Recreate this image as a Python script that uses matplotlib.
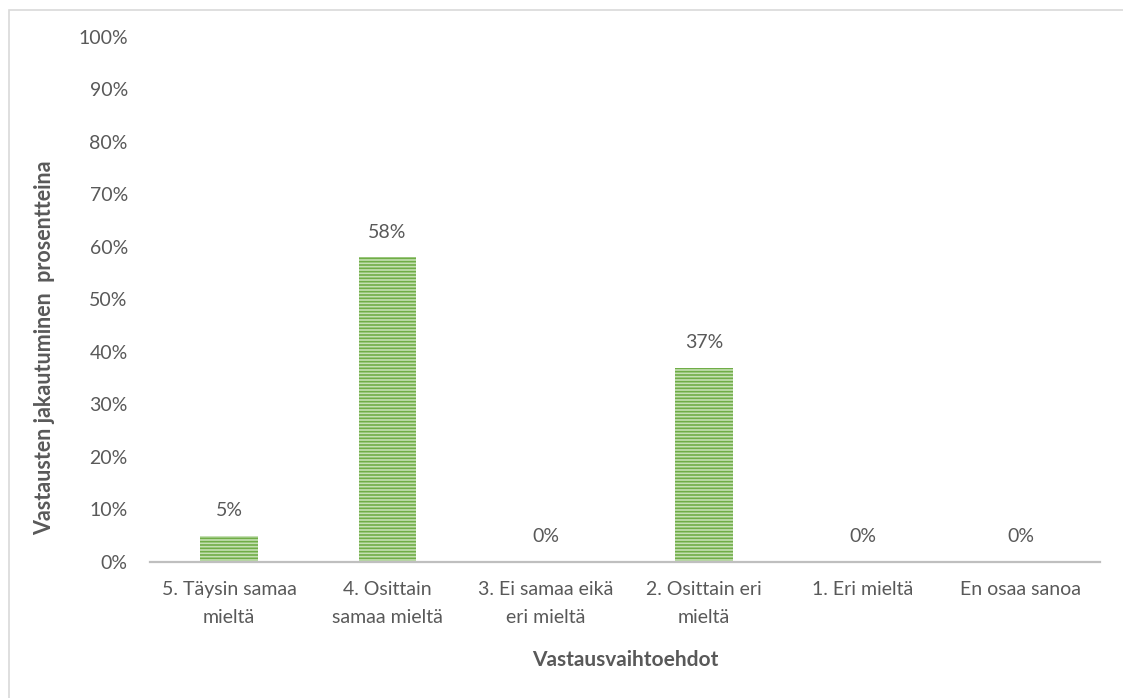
import numpy as np
import matplotlib.pyplot as plt
from matplotlib.patches import Rectangle

# Kyselyn vastausjakauma
categories = ['5. Täysin samaa\nmieltä', '4. Osittain\nsamaa mieltä', '3. Ei samaa eikä\neri mieltä',
              '2. Osittain eri\nmieltä', '1. Eri mieltä', 'En osaa sanoa']
shares = [5, 58, 0, 37, 0, 0]
y_ticks = list(range(0, 101, 10))

text_col = '#595959'
plt.rcParams['font.family'] = ['Lato', 'DejaVu Sans']
plt.rcParams['hatch.linewidth'] = 1.2

fig = plt.figure(figsize=(11.23, 6.98), dpi=100)
ax = fig.add_axes([150 / 1123, 1 - 562 / 698, 950 / 1123, 525 / 698])

# kehys kuvan ympärillä
fig.patches.append(Rectangle((8.5 / 1123, -0.1), 1.2, 1 - 9.5 / 698 + 0.1, transform=fig.transFigure,
                             fill=False, edgecolor='#d9d9d9', linewidth=1.2))

x = np.arange(len(categories))
bars = ax.bar(x, shares, width=0.366, color='#c5e0b4', edgecolor='#70ad47', linewidth=0, hatch='-----')

for xi, v in zip(x, shares):
    ax.annotate(f'{v}%', (xi, v), xytext=(0, 18), textcoords='offset points',
                ha='center', va='center', fontsize=14, color=text_col)

ax.set_xlim(-0.5, len(categories) - 0.5)
ax.set_ylim(0, 100)
ax.set_yticks(y_ticks)
ax.set_yticklabels([f'{t}%' for t in y_ticks])
ax.set_xticks(x)
ax.set_xticklabels(categories, linespacing=1.72)
ax.tick_params(axis='y', length=0, pad=16, labelsize=14, labelcolor=text_col)
ax.tick_params(axis='x', length=0, pad=14, labelsize=14, labelcolor=text_col)

for s in ['top', 'right', 'left']:
    ax.spines[s].set_visible(False)
ax.spines['bottom'].set_color('#bfbfbf')
ax.spines['bottom'].set_linewidth(1.6)

fig.text(45 / 1123, 1 - 348 / 698, 'Vastausten jakautuminen  prosentteina', rotation=90,
         ha='center', va='center', fontsize=15.5, fontweight='bold', color=text_col)
fig.text(625 / 1123, 1 - 660 / 698, 'Vastausvaihtoehdot', ha='center', va='center',
         fontsize=15, fontweight='bold', color=text_col)

fig.savefig('out.png', dpi=100)
